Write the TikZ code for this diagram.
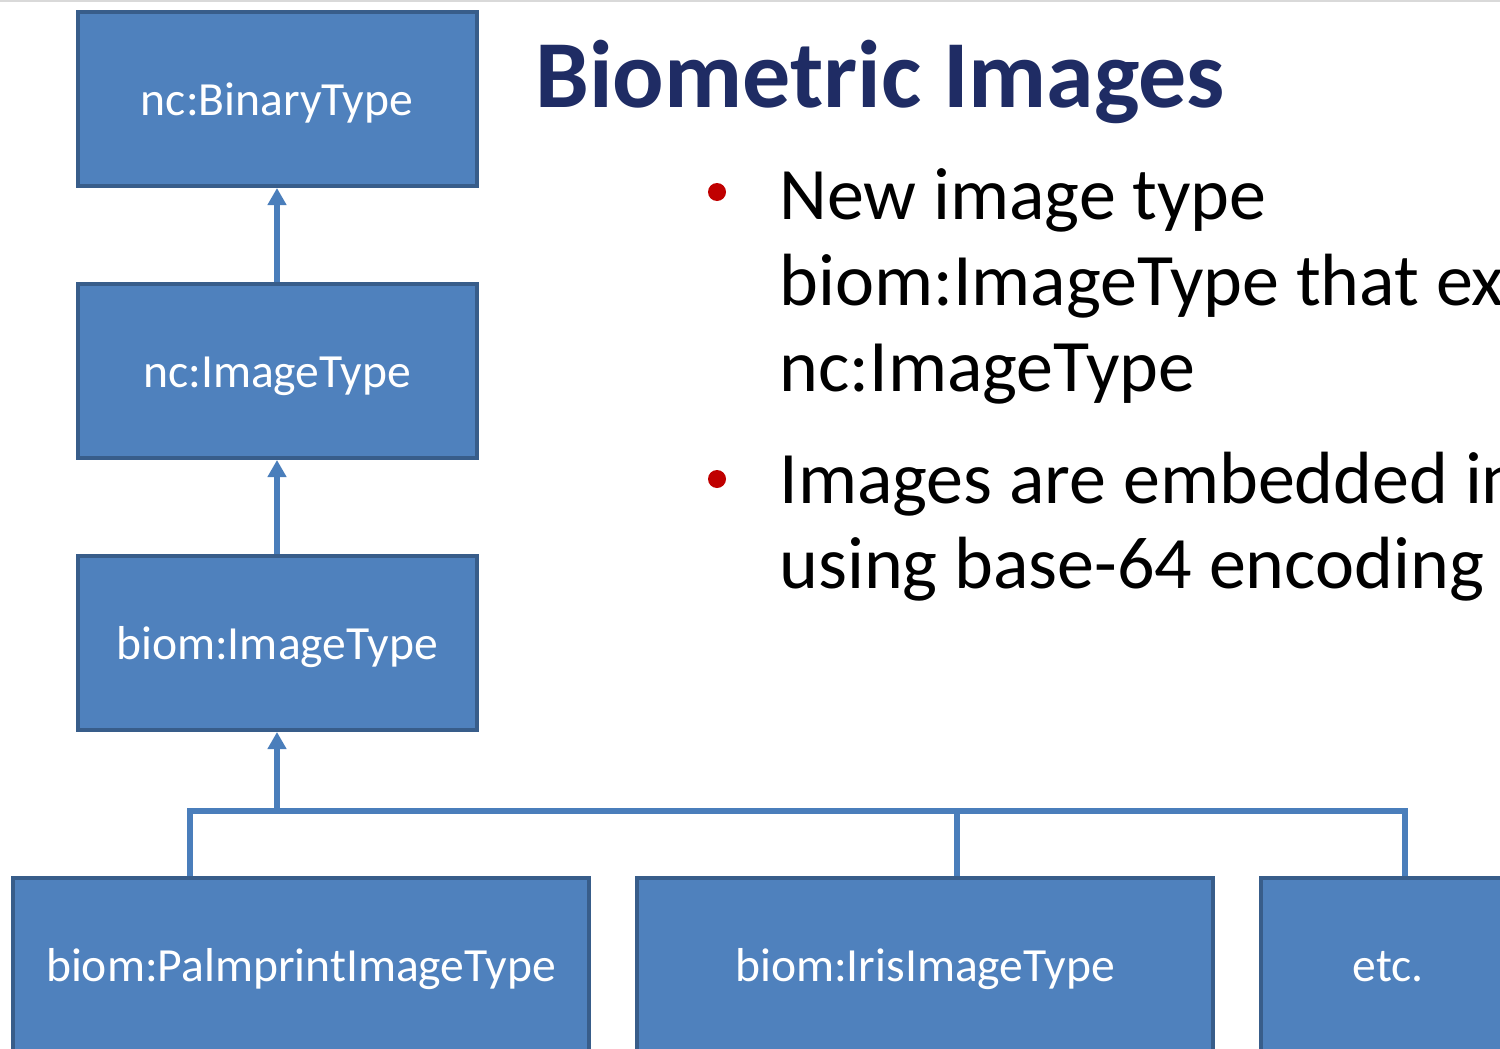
\documentclass[tikz,border=0pt]{standalone}
\usepackage{fontspec}
\setmainfont{Carlito}
\usetikzlibrary{arrows.meta}
\definecolor{boxfill}{HTML}{4F81BD}
\definecolor{boxedge}{HTML}{385D8A}
\definecolor{linkblue}{HTML}{4A7EBB}
\definecolor{titlenavy}{HTML}{1F2C64}
\definecolor{bulletred}{HTML}{C00000}
\definecolor{rulegray}{HTML}{D9D9D9}
\begin{document}
\begin{tikzpicture}[x=0.5pt,y=-0.5pt,
  typebox/.style={draw=boxedge,fill=boxfill,line width=2pt,text=white,
    minimum height=87pt,inner sep=0pt,text height=21pt,text depth=4.6pt,
    font=\fontsize{23.8}{28}\selectfont},
  narrowbox/.style={typebox,minimum width=199.5pt},
  widebox/.style={typebox,minimum width=288pt},
  link/.style={draw=linkblue,line width=3pt},
  inherit/.style={link,-{Triangle[length=8.5pt,width=9pt]}},
  bulletdot/.style={circle,fill=bulletred,inner sep=0pt,minimum size=9pt},
  bodyline/.style={anchor=base west,inner sep=0pt,
    font=\fontsize{37}{43}\selectfont}]
\useasboundingbox (0,0) rectangle (1500,1049);
\clip (0,0) rectangle (1500,1049);
\fill[white] (0,0) rectangle (1500,1049);
\fill[rulegray] (0,0) rectangle (1500,2);

% type hierarchy
\node[narrowbox] (binary) at (277,99) {nc:BinaryType};
\node[narrowbox] (ncimage) at (277,371) {nc:ImageType};
\node[narrowbox] (biomimage) at (277,643) {biom:ImageType};
\node[widebox] (palm) at (301,965) {biom:PalmprintImageType};
\node[widebox] (iris) at (925,965) {biom:IrisImageType};
\node[typebox,minimum width=127pt] (etc) at (1388,965) {etc.};

\draw[inherit] (ncimage.north) -- (binary.south);
\draw[inherit] (biomimage.north) -- (ncimage.south);

% bracket joining the derived image types
\coordinate (join) at (277,811);
\coordinate (dpalm) at (190,811);
\coordinate (diris) at (957,811);
\coordinate (detc) at (1405,811);
\draw[inherit] (join) -- (biomimage.south);
\draw[link] (palm.north -| dpalm) -- (dpalm) -- (detc) -- (etc.north -| detc);
\draw[link] (diris) -- (iris.north -| diris);

% title and bullet list
\node[anchor=base west,inner sep=0pt,text=titlenavy,
  font=\fontsize{48}{56}\selectfont\bfseries] (title) at (535,107) {Biometric Images};
\node[bulletdot] (dot1) at (717,192) {};
\node[bodyline] (item1a) at (779,219) {New image type};
\node[bodyline] (item1b) at (779,305) {biom:ImageType that ex};
\node[bodyline] (item1c) at (779,391) {nc:ImageType};
\node[bulletdot] (dot2) at (717,479) {};
\node[bodyline] (item2a) at (779,503) {Images are embedded in};
\node[bodyline] (item2b) at (779,588) {using base-64 encoding};
\end{tikzpicture}
\end{document}
